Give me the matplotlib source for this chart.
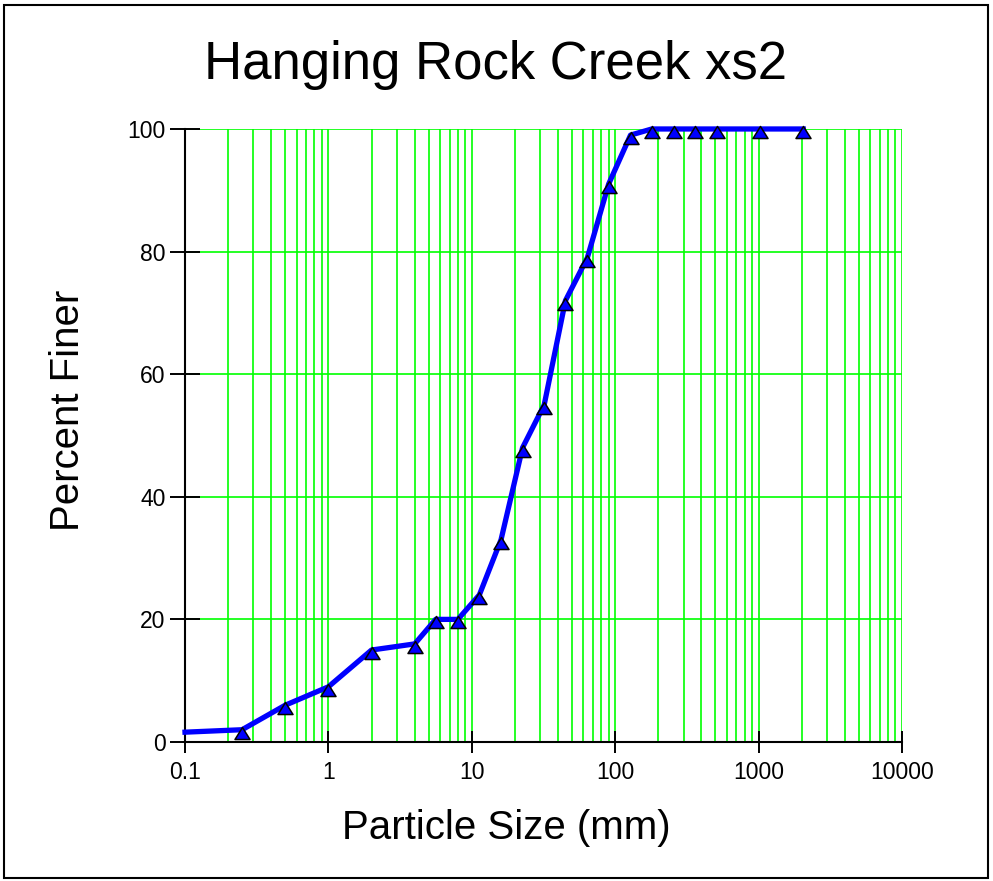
import numpy as np
import matplotlib.pyplot as plt
from matplotlib.ticker import LogLocator, FixedLocator, NullFormatter
from matplotlib.patches import Rectangle
from matplotlib.path import Path

plt.rcParams['font.family'] = ['Liberation Sans', 'DejaVu Sans']

# particle size (mm) and percent finer
size_mm = [0.1, 0.25, 0.5, 1, 2, 4, 5.6, 8, 11.3, 16, 22.6, 32, 45, 64, 90,
           128, 180, 256, 362, 512, 1024, 2048]
pct_finer = [1.6, 2, 6, 9, 15, 16, 20, 20, 24, 33, 48, 55, 72, 79, 91,
             99, 100, 100, 100, 100, 100, 100]

x_ticks = [0.1, 1, 10, 100, 1000, 10000]
x_labels = ['0.1', '1', '10', '100', '1000', '10000']
y_ticks = [0, 20, 40, 60, 80, 100]

fig = plt.figure(figsize=(9.93, 8.81), dpi=100)
ax = fig.add_axes([0.1863, 0.1578, 0.722, 0.6958])

grid_green = '#00ff00'
ax.set_xscale('log')
ax.set_xlim(0.1, 10000)
ax.set_ylim(0, 100)
ax.xaxis.set_major_locator(FixedLocator(x_ticks))
ax.set_xticklabels(x_labels)
ax.xaxis.set_minor_locator(LogLocator(base=10, subs=np.arange(2, 10)))
ax.xaxis.set_minor_formatter(NullFormatter())
ax.set_yticks(y_ticks)
ax.grid(True, which='major', color=grid_green, lw=1.2)
ax.grid(True, which='minor', axis='x', color=grid_green, lw=1.2)
ax.set_axisbelow(True)
ax.tick_params(axis='x', which='major', direction='inout', length=16,
               width=1.4, labelsize=16.5, pad=6)
ax.tick_params(axis='y', which='major', direction='inout', length=22,
               width=1.4, labelsize=16.5, pad=3)
ax.tick_params(which='minor', length=0)
ax.spines['top'].set_visible(False)
ax.spines['right'].set_visible(False)
ax.spines['left'].set_linewidth(1.5)
ax.spines['bottom'].set_linewidth(1.5)

# triangle that sits a little below its data point, like the original
tri = Path([(-1, -1.2), (1, -1.2), (0, 0.4), (-1, -1.2)],
           [Path.MOVETO, Path.LINETO, Path.LINETO, Path.CLOSEPOLY])

ax.plot(size_mm, pct_finer, color='#0000ff', lw=3.8, zorder=3, clip_on=False)
ax.plot(size_mm[1:], pct_finer[1:], ls='none', marker=tri, ms=13,
        mfc='#0000ff', mec='black', mew=1.1, zorder=4, clip_on=False)

fig.text(0.510, 0.060, 'Particle Size (mm)', fontsize=29,
         ha='center', va='center')
fig.text(0.068, 0.534, 'Percent Finer', fontsize=29, rotation=90,
         ha='center', va='center')
fig.text(0.499, 0.926, 'Hanging Rock Creek xs2', fontsize=38,
         ha='center', va='center')

fig.patches.append(Rectangle((0.004, 0.003), 0.991, 0.991, fill=False,
                             edgecolor='black', lw=1.5,
                             transform=fig.transFigure, figure=fig))

fig.savefig('out.png', dpi=100)
